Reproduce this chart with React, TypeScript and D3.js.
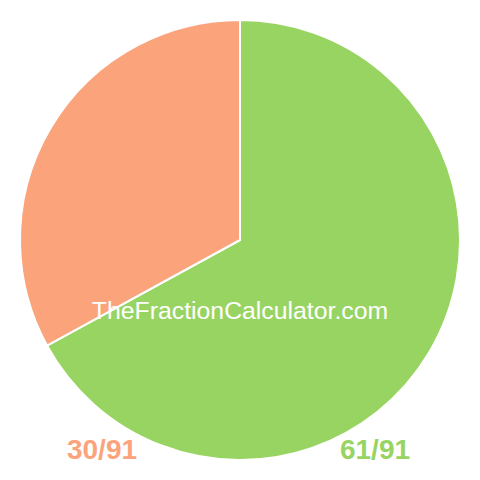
import React from "react";
import * as d3 from "d3";

const labels = ["61/91", "30/91"];
const values = [61, 30];
const colors = ["#98D462", "#FBA47C"];
const watermark = "TheFractionCalculator.com";

export default function App() {
  const W = 480, H = 480, cx = 240, cy = 240, r = 220;
  const pie = d3.pie<number>().sort(null).startAngle(0).endAngle(2 * Math.PI);
  const arcs = pie(values);
  const arc = d3.arc<d3.PieArcDatum<number>>().innerRadius(0).outerRadius(r);
  const labelX = [375, 102];
  return (
    <svg width={W} height={H} style={{ position: "absolute", left: 0, top: 0 }}>
      <g transform={`translate(${cx},${cy})`}>
        {arcs.map((a, i) => (
          <path key={i} d={arc(a) || ""} fill={colors[i]} stroke="#fff" strokeWidth={2} strokeLinejoin="round" />
        ))}
      </g>
      <text x={240} y={319} textAnchor="middle" fill="#fff" fontFamily="Liberation Sans, Arial, sans-serif" fontSize={24.8}>
        {watermark}
      </text>
      {labels.map((l, i) => (
        <text key={l} x={labelX[i]} y={459} textAnchor="middle" fill={colors[i]} fontFamily="Liberation Sans, Arial, sans-serif" fontWeight="bold" fontSize={28}>
          {l}
        </text>
      ))}
    </svg>
  );
}
